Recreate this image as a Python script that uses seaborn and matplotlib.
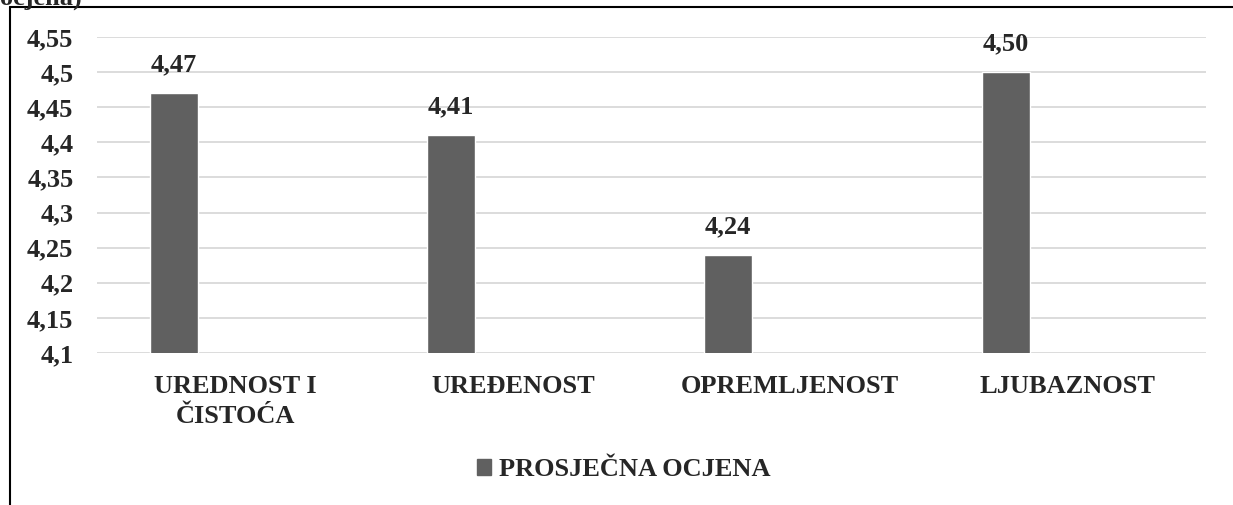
import pandas as pd
import matplotlib.pyplot as plt
import numpy as np
import seaborn as sns
from matplotlib.ticker import FuncFormatter
from matplotlib.lines import Line2D
from matplotlib.patches import Patch

kategorije = ['UREDNOST I\nČISTOĆA', 'UREĐENOST', 'OPREMLJENOST', 'LJUBAZNOST']
ocjene = [4.47, 4.41, 4.24, 4.50]
serija = 'PROSJEČNA OCJENA'
y_ticks = [4.1, 4.15, 4.2, 4.25, 4.3, 4.35, 4.4, 4.45, 4.5, 4.55]

sns.set_style('white')
plt.rcParams['font.family'] = ['Liberation Serif', 'DejaVu Serif']
plt.rcParams['font.weight'] = 'bold'

df = pd.DataFrame({'kategorija': kategorije, 'ocjena': ocjene, 'serija': serija})

fig = plt.figure(figsize=(12.33, 5.05), dpi=100)
ax = fig.add_axes([97 / 1233, 1 - 353 / 505, (1206 - 97) / 1233, (353 - 37) / 505])

# second (empty) series slot keeps the bars left of the category centre, like the original
sns.barplot(data=df, x='kategorija', y='ocjena', hue='serija', hue_order=[serija, ' '],
            palette={serija: '#606060', ' ': '#ffffff'}, width=0.892, gap=0.612,
            dodge=True, ax=ax, legend=False, saturation=1)

ax.set_ylim(4.1, 4.55)
ax.set_yticks(y_ticks)
ax.yaxis.set_major_formatter(FuncFormatter(lambda v, p: f'{v:g}'.replace('.', ',')))
ax.grid(axis='y', color='#d9d9d9', linewidth=1.3)
ax.set_axisbelow(True)
sns.despine(ax=ax, left=True, bottom=True)
ax.tick_params(axis='y', length=0, pad=17, labelsize=19)
ax.tick_params(axis='x', length=0, pad=16, labelsize=19)
for lab in ax.get_xticklabels():
    lab.set_linespacing(1.4)
ax.set_xlabel('')
ax.set_ylabel('')

ax.bar_label(ax.containers[0], labels=[f'{v:.2f}'.replace('.', ',') for v in ocjene],
             padding=12, fontsize=19, fontweight='bold')

fig.legend(handles=[Patch(color='#606060', label=serija)], loc='center',
           bbox_to_anchor=(0.506, 1 - 470 / 505), frameon=False, fontsize=19,
           handlelength=0.55, handleheight=0.55, handletextpad=0.3)

# frame of the surrounding document table
fig.add_artist(Line2D([10 / 1233, 10 / 1233], [0, 1 - 7 / 505], color='black', linewidth=1.5))
fig.add_artist(Line2D([10 / 1233, 1], [1 - 7 / 505, 1 - 7 / 505], color='black', linewidth=1.5))
fig.text(0.0, 1 - 5 / 505, 'ocjena)', fontsize=19, fontweight='bold', va='baseline', ha='left')

fig.savefig('out.png', dpi=100)
